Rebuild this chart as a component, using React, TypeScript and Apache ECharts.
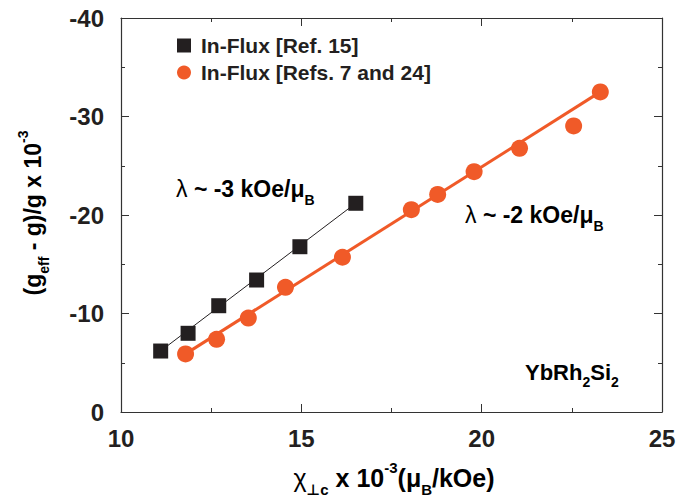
import React, { useEffect, useRef } from "react";
import * as echarts from "echarts";

const squareX = [11.1, 11.86, 12.71, 13.76, 14.96, 16.51];
const squareY = [-6.19, -7.99, -10.79, -13.4, -16.78, -21.19];
const circleX = [11.79, 12.65, 13.53, 14.56, 16.14, 18.05, 18.78, 19.79, 21.05, 22.55, 23.29];
const circleY = [-5.89, -7.38, -9.54, -12.66, -15.71, -20.54, -22.09, -24.4, -26.77, -29.04, -32.49];
const fitBlackX = [11.1, 16.51];
const fitBlackY = [-6.2, -21.2];
const fitOrangeX = [11.79, 23.29];
const fitOrangeY = [-5.9, -32.5];
const seriesNames = ["In-Flux [Ref. 15]", "In-Flux [Refs. 7 and 24]"];

const FONT = "'Liberation Sans', Arial, 'DejaVu Sans', sans-serif";
const DARK = "#231F20";
const ORANGE = "#F05A28";
const AXIS = "#333333";

const pairs = (xs: number[], ys: number[]) => xs.map((v, i) => [v, ys[i]]);

export default function App() {
  const ref = useRef<HTMLDivElement>(null);
  useEffect(() => {
    document.body.style.margin = "0";
    if (!ref.current) return;
    const chart = echarts.init(ref.current, undefined, { renderer: "svg" });
    const tick = { show: true, inside: true, length: 8, lineStyle: { color: AXIS, width: 1 } };
    const minor = { show: true, splitNumber: 2, length: 4, lineStyle: { color: AXIS, width: 1 } };
    const line = { show: true, onZero: false, lineStyle: { color: AXIS, width: 1.2 } };
    const label = { fontSize: 24, fontWeight: "bold", color: DARK, fontFamily: FONT };
    const richBase = (size: number, sub: number, color: string) => ({
      m: { fontSize: size, fontWeight: "bold", color, fontFamily: FONT, lineHeight: size + 12 },
      n: { fontSize: size, fontWeight: "normal", color, fontFamily: FONT, lineHeight: size + 12 },
      s: { fontSize: sub, fontWeight: "bold", color, fontFamily: FONT, lineHeight: sub, verticalAlign: "bottom" },
      p: { fontSize: sub, fontWeight: "bold", color, fontFamily: FONT, lineHeight: sub, verticalAlign: "top" },
    });
    chart.setOption({
      animation: false,
      backgroundColor: "#ffffff",
      grid: { left: 121, right: 30, top: 18, bottom: 87 },
      legend: {
        orient: "vertical",
        left: 172,
        top: 30,
        itemWidth: 14,
        itemHeight: 14,
        itemGap: 6,
        data: seriesNames,
        textStyle: { fontSize: 21, fontWeight: "bold", color: DARK, fontFamily: FONT, padding: [0, 0, 0, 5] },
      },
      xAxis: [
        {
          type: "value", min: 10, max: 25, interval: 5, position: "bottom",
          axisLine: line, axisTick: tick, minorTick: minor, splitLine: { show: false },
          axisLabel: { ...label, margin: 14 },
        },
        {
          type: "value", min: 10, max: 25, interval: 5, position: "top",
          axisLine: line, axisTick: tick, minorTick: minor, splitLine: { show: false },
          axisLabel: { show: false },
        },
      ],
      yAxis: [
        {
          type: "value", min: -40, max: 0, interval: 10, inverse: true, position: "left",
          axisLine: line, axisTick: tick, minorTick: minor, splitLine: { show: false },
          axisLabel: { ...label, margin: 17 },
        },
        {
          type: "value", min: -40, max: 0, interval: 10, inverse: true, position: "right",
          axisLine: line, axisTick: tick, minorTick: minor, splitLine: { show: false },
          axisLabel: { show: false },
        },
      ],
      graphic: [
        {
          type: "text", x: 33, y: 213, rotation: Math.PI / 2,
          style: {
            text: "{m|(g}{s|eff}{m| - g)/g x 10}{p|-3}",
            rich: richBase(23, 14, DARK),
            align: "center", verticalAlign: "middle",
          },
        },
        {
          type: "text", x: 394, y: 478,
          style: {
            text: "{n|χ}{s|⊥c}{m| x 10}{p|-3}{m|(μ}{s|B}{m|/kOe)}",
            rich: richBase(25, 15, DARK),
            align: "center", verticalAlign: "middle",
          },
        },
        {
          type: "text", x: 176, y: 189,
          style: {
            text: "{n|λ}{m| ~ -3 kOe/μ}{s|B}",
            rich: richBase(23, 14, DARK),
            align: "left", verticalAlign: "middle",
          },
        },
        {
          type: "text", x: 465, y: 215,
          style: {
            text: "{n|λ}{m| ~ -2 kOe/μ}{s|B}",
            rich: richBase(23, 14, ORANGE),
            align: "left", verticalAlign: "middle",
          },
        },
        {
          type: "text", x: 525, y: 372,
          style: {
            text: "{m|YbRh}{s|2}{m|Si}{s|2}",
            rich: richBase(22, 14, DARK),
            align: "left", verticalAlign: "middle",
          },
        },
      ],
      series: [
        {
          name: "fit15", type: "line", data: pairs(fitBlackX, fitBlackY), symbol: "none",
          lineStyle: { color: DARK, width: 1 }, z: 2, silent: true,
        },
        {
          name: "fit7", type: "line", data: pairs(fitOrangeX, fitOrangeY), symbol: "none",
          lineStyle: { color: ORANGE, width: 3 }, z: 2, silent: true,
        },
        {
          name: seriesNames[0], type: "scatter", data: pairs(squareX, squareY),
          symbol: "rect", symbolSize: 15, itemStyle: { color: DARK, opacity: 1 }, z: 3,
        },
        {
          name: seriesNames[1], type: "scatter", data: pairs(circleX, circleY),
          symbol: "circle", symbolSize: 17, itemStyle: { color: ORANGE, opacity: 1 }, z: 3,
        },
      ],
    });
    return () => chart.dispose();
  }, []);
  return <div ref={ref} style={{ width: 692, height: 499 }} />;
}
